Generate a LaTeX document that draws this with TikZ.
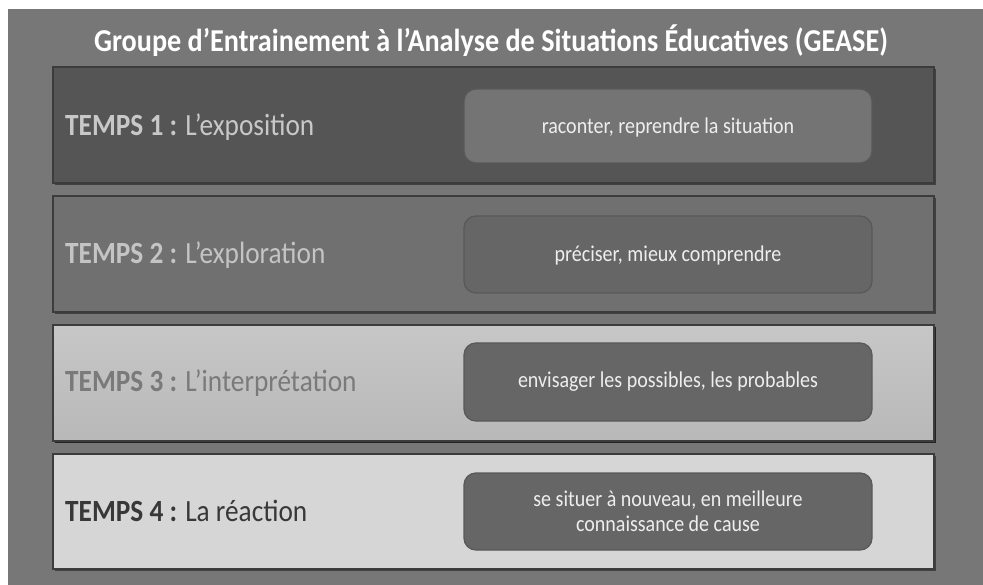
\documentclass[tikz,border=0pt]{standalone}
\usepackage{fontspec}
\usepackage{graphicx}
\setmainfont{Carlito}
\usetikzlibrary{shadows}
\definecolor{bgout}{HTML}{777777}
\definecolor{bandA}{HTML}{555555}
\definecolor{bandB}{HTML}{707070}
\definecolor{bandC}{HTML}{C2C2C2}
\definecolor{bandD}{HTML}{D6D6D6}
\definecolor{boxA}{HTML}{747474}
\definecolor{boxB}{HTML}{666666}
\definecolor{edge}{HTML}{3C3C3C}
\definecolor{txtA}{HTML}{C8C8C8}
\definecolor{txtB}{HTML}{C4C4C4}
\definecolor{txtC}{HTML}{7A7A7A}
\definecolor{txtD}{HTML}{383838}
\definecolor{boxtxt}{HTML}{EEEEEE}
\newcommand{\talltext}[1]{\scalebox{1}[1.13]{#1}}
\begin{document}
\begin{tikzpicture}[x=1pt,y=-1pt,
  band/.style={draw=edge, line width=1.2pt, drop shadow={shadow xshift=2pt, shadow yshift=-2pt, opacity=0.45, fill=black}},
  innerbox/.style={draw=edge!85, line width=1.3pt, rounded corners=12pt},
  lab/.style={anchor=west, font=\fontsize{27.3}{32}\selectfont, inner sep=0pt},
  boxlab/.style={align=center, font=\fontsize{20}{25}\selectfont, text=boxtxt, inner sep=0pt}]
\useasboundingbox (0,0) rectangle (983,585);
\fill[white] (0,0) rectangle (983,585);
\fill[bgout] (8,9) rectangle (983,585);
\node[font=\bfseries\fontsize{28.2}{33}\selectfont, text=white, inner sep=0pt] (title) at (491,41) {\talltext{Groupe d’Entrainement à l’Analyse de Situations Éducatives (GEASE)}};
% bands
\path[band, fill=bandA] (53,67) rectangle (934,183);
\path[band, fill=bandB] (53,196) rectangle (934,312);
\path[band, top color=bandC!92!white, bottom color=bandC!95!black, draw=edge, line width=1.2pt, drop shadow={shadow xshift=2pt, shadow yshift=-2pt, opacity=0.45, fill=black}] (53,325) rectangle (934,441);
\path[band, fill=bandD] (53,454) rectangle (934,569);
% inner boxes
\path[innerbox, fill=boxA] (464,89) rectangle (872,163);
\path[innerbox, fill=boxB] (464,216) rectangle (872,293);
\path[innerbox, fill=boxB] (464,343) rectangle (872,421);
\path[innerbox, fill=boxB] (464,473) rectangle (872,550);
% labels
\node[lab, text=txtA] (t1) at (65,127) {\talltext{\textbf{TEMPS 1 :} L’exposition}};
\node[lab, text=txtB] (t2) at (65,255) {\talltext{\textbf{TEMPS 2 :} L’exploration}};
\node[lab, text=txtC] (t3) at (65,383) {\talltext{\textbf{TEMPS 3 :} L’interprétation}};
\node[lab, text=txtD] (t4) at (65,511) {\talltext{\textbf{TEMPS 4 :} La réaction}};
\node[boxlab] (b1) at (668,127) {\talltext{raconter, reprendre la situation}};
\node[boxlab] (b2) at (668,255) {\talltext{préciser, mieux comprendre}};
\node[boxlab] (b3) at (668,382) {\talltext{envisager les possibles, les probables}};
\node[boxlab] (b4) at (668,511) {\talltext{se situer à nouveau, en meilleure}\\\talltext{connaissance de cause}};
\end{tikzpicture}
\end{document}
